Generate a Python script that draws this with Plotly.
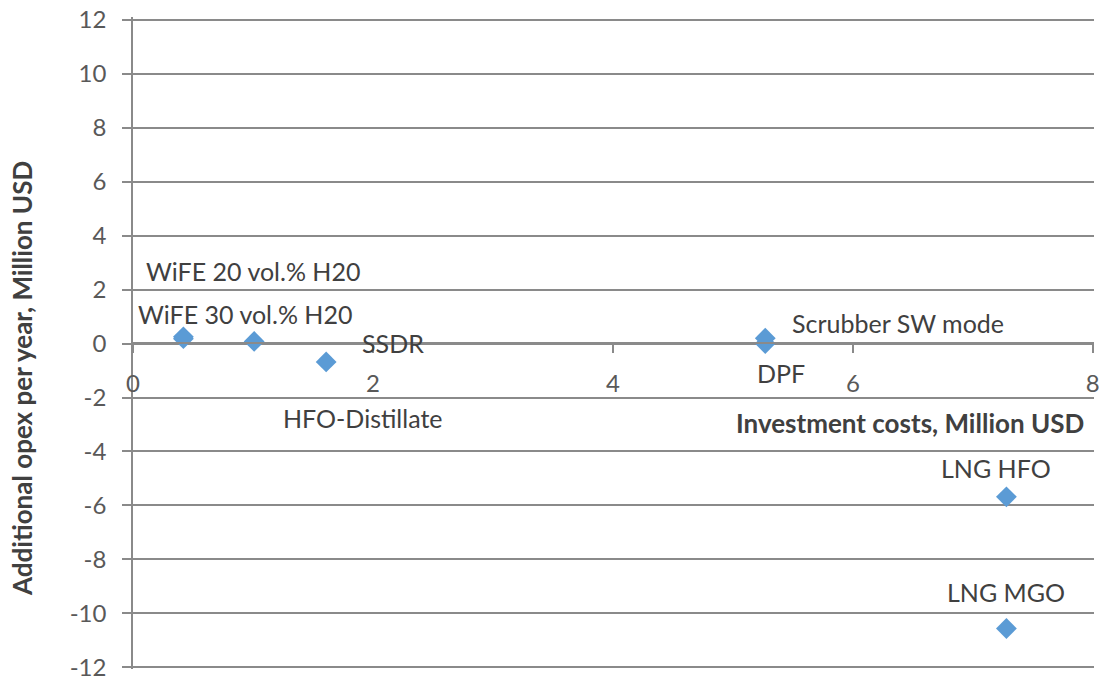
import plotly.graph_objects as go

# Data
labels = ["WiFE 20 vol.% H20", "WiFE 30 vol.% H20", "HFO-Distillate", "SSDR",
          "DPF", "Scrubber SW mode", "LNG HFO", "LNG MGO"]
invest = [0.42, 0.42, 1.01, 1.61, 5.27, 5.27, 7.28, 7.28]
opex = [0.25, 0.18, 0.08, -0.68, 0.0, 0.2, -5.68, -10.56]
x_ticks = [0, 2, 4, 6, 8]
y_ticks = [-12, -10, -8, -6, -4, -2, 0, 2, 4, 6, 8, 10, 12]
y_tick_text = ["-12", "-10", "-8", "-6", "-4", "-2", "0", "2", "4", "6", "8", "10", "12"]

# label offsets in pixels (style)
label_offsets = [(70, 66), (62, 25), (109, -77), (67, 19),
                 (16, -29), (133, 15), (-10, 29), (0, 37)]

FONT = "Lato"
GRID = "#8a8a8a"
fig = go.Figure()
fig.add_trace(go.Scatter(
    x=invest, y=opex, mode="markers",
    marker=dict(symbol="diamond", size=16, color="#5B9BD5", line=dict(width=0)),
    hoverinfo="text", text=labels, showlegend=False))

for lab, xv, yv, (dx, dy) in zip(labels, invest, opex, label_offsets):
    fig.add_annotation(x=xv, y=yv, xref="x", yref="y", text=lab, showarrow=False,
                       xshift=dx, yshift=dy, font=dict(family=FONT, size=25, color="#404040"))

fig.add_annotation(x=1, xref="paper", y=0, yref="y", xanchor="right", yanchor="middle",
                   text="<b>Investment costs, Million USD</b>", showarrow=False,
                   xshift=-8, yshift=-79, font=dict(family=FONT, size=26, color="#404040"))
fig.add_annotation(x=0, xref="paper", y=0.5, yref="paper", textangle=-90,
                   xanchor="center", yanchor="middle",
                   text="<b>Additional opex per year, Million USD</b>", showarrow=False,
                   xshift=-111, yshift=-36, font=dict(family=FONT, size=26, color="#404040"))

fig.update_layout(
    width=1107, height=681,
    margin=dict(l=125, r=21, t=9, b=20),
    paper_bgcolor="white", plot_bgcolor="white",
    font=dict(family=FONT, size=24, color="#595959"),
    xaxis=dict(range=[0, 8.01], tickvals=x_ticks, showgrid=False, zeroline=False,
               showline=True, linecolor=GRID, linewidth=1.5, automargin=False,
               ticks="outside", ticklen=9, tickcolor=GRID, tickwidth=1.5,
               anchor="free", position=0.5, ticklabelstandoff=10,
               ticklabeloverflow="allow",
               tickfont=dict(family=FONT, size=24, color="#595959")),
    yaxis=dict(range=[-12.06, 12.1], tickvals=y_ticks, ticktext=y_tick_text,
               showgrid=True, gridcolor=GRID, automargin=False,
               gridwidth=1.5, zeroline=False, showline=True, linecolor=GRID, linewidth=1.5,
               ticks="outside", ticklen=9, tickcolor=GRID, tickwidth=1.5,
               ticklabelstandoff=11, ticklabeloverflow="allow",
               tickfont=dict(family=FONT, size=24, color="#595959")),
)

fig.write_html("out.html")
